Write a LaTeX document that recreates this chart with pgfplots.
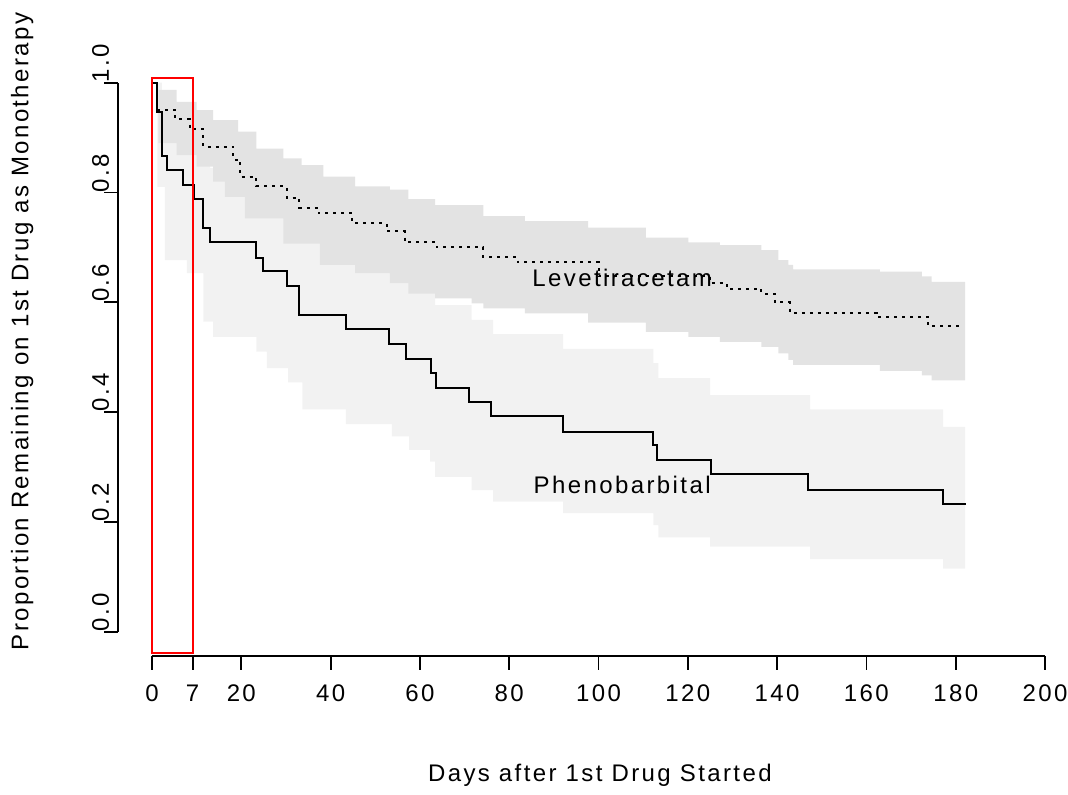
\documentclass[border=0pt]{standalone}
\usepackage{fontspec}
\setmainfont{Liberation Sans}[LetterSpace=10]
\usepackage{pgfplots}
\pgfplotsset{compat=1.18}
\usepgfplotslibrary{fillbetween}

\definecolor{levband}{HTML}{E3E3E3}
\definecolor{phenoband}{HTML}{F2F2F2}
\newcommand{\lab}{\fontsize{12}{14}\selectfont}

\begin{document}
\begin{tikzpicture}[every node/.style={font=\lab}]
\begin{axis}[
  scale only axis, width=463.35pt, height=292pt,
  xmin=-7.55, xmax=200, ymin=-0.0437, ymax=1.02,
  axis x line*=bottom, axis y line*=left,
  axis line style={draw=none},
  clip=false,
  tick align=outside, major tick length=7pt,
  tick style={black, line width=0.9pt},
  xtick={0,9.1,20,40,60,80,100,120,140,160,180,200},
  xticklabels={0,7,20,40,60,80,100,120,140,160,180,200},
  ytick={0,0.2,0.4,0.6,0.8,1},
  yticklabels={0.0,0.2,0.4,0.6,0.8,1.0},
  yticklabel style={rotate=90, anchor=south west, inner xsep=0pt},
  yticklabel shift=-6pt,
  xticklabel shift=4pt,
  ticklabel style={font=\lab},
]
% confidence band, phenobarbital
\addplot[const plot, draw=none, name path=pu] table {
1.2 1.0
2.2 0.96
3.3 0.945
6.9 0.93
9.3 0.905
11.5 0.865
13.0 0.845
23.3 0.825
24.9 0.805
30.3 0.785
33.0 0.735
43.4 0.715
53.1 0.69
56.9 0.665
62.4 0.64
63.4 0.595
71.6 0.568
76.4 0.542
92.1 0.515
112.3 0.489
113.4 0.462
125.0 0.431
147.4 0.405
177.2 0.373
182.1 0.373
};
\addplot[const plot, draw=none, name path=pl] table {
1.2 0.81
2.9 0.677
7.8 0.653
11.5 0.565
13.7 0.537
23.4 0.51
25.7 0.48
30.5 0.454
33.7 0.405
43.4 0.378
53.7 0.356
57.6 0.331
62.3 0.31
63.4 0.282
71.6 0.258
76.4 0.237
92.1 0.216
112.3 0.194
113.4 0.172
125.0 0.155
147.4 0.132
177.2 0.115
182.1 0.115
};
\addplot[phenoband, draw=none] fill between[of=pu and pl];

% confidence band, levetiracetam
\addplot[const plot, draw=none, name path=lu] table {
1.4 0.987
5.5 0.965
10.0 0.950
13.7 0.932
19.3 0.911
23.4 0.880
29.4 0.862
33.5 0.850
38.4 0.829
45.5 0.811
53.3 0.805
57.4 0.788
63.4 0.777
74.2 0.757
83.5 0.748
97.7 0.736
110.6 0.718
120.1 0.709
127.2 0.704
136.5 0.695
140.3 0.677
142.5 0.668
143.6 0.660
163.0 0.656
172.4 0.647
174.6 0.637
182.1 0.637
};
\addplot[const plot, draw=none, name path=ll] table {
1.4 0.89
5.5 0.868
10.0 0.847
13.7 0.82
16.3 0.792
20.8 0.753
29.4 0.707
37.6 0.668
45.5 0.653
53.3 0.635
57.4 0.616
63.4 0.607
71.6 0.598
74.2 0.589
83.5 0.58
97.7 0.563
110.6 0.546
120.1 0.537
127.2 0.528
136.5 0.519
140.3 0.507
142.5 0.495
143.6 0.486
163.0 0.475
172.4 0.467
174.6 0.458
182.1 0.458
};
\addplot[levband, draw=none] fill between[of=lu and ll];

% levetiracetam
\addplot[const plot, black, line width=1pt, dash pattern=on 1.5pt off 2.5pt] table {
0 1.0
1.2 0.951
5.2 0.933
8.5 0.915
11.5 0.883
18.2 0.86
19.8 0.828
23.4 0.811
30.2 0.79
33.0 0.772
37.3 0.762
44.9 0.744
52.6 0.729
56.7 0.709
63.8 0.700
74.2 0.682
82.0 0.673
100.0 0.647
125.0 0.635
128.7 0.625
136.5 0.616
139.5 0.600
142.9 0.581
162.3 0.574
173.9 0.556
181.4 0.556
};

% phenobarbital
\addplot[const plot, black, line width=1pt] table {
0 1.0
1.2 0.947
2.2 0.866
3.3 0.841
6.9 0.814
9.3 0.788
11.5 0.735
13.0 0.709
23.3 0.68
24.9 0.657
30.3 0.63
33.0 0.576
43.4 0.551
53.1 0.524
56.9 0.497
62.4 0.471
63.5 0.444
71.1 0.418
75.9 0.392
92.1 0.364
112.3 0.34
113.2 0.313
125.3 0.287
147.0 0.259
177.2 0.233
182.3 0.233
};

\draw[line width=0.9pt] (axis cs:0,-0.0437) -- (axis cs:200,-0.0437);
\draw[line width=0.9pt] (axis cs:-7.55,0) -- (axis cs:-7.55,1);
\draw[red, line width=1pt] (axis cs:0,-0.039) rectangle (axis cs:9.1,1.008);

\node at (axis cs:105.3,0.644) {Levetiracetam};
\node at (axis cs:105.3,0.267) {Phenobarbital};
\node at (axis cs:100.3,-0.261) {Days after 1st Drug Started};
\node[rotate=90] at (axis cs:-29.1,0.547) {Proportion Remaining on 1st Drug as Monotherapy};

\coordinate (bl) at (rel axis cs:0,0);
\coordinate (tr) at (rel axis cs:1,1);
\end{axis}
\pgfresetboundingbox
\path[use as bounding box] ([shift={(-59.15pt,-69.15pt)}]bl) rectangle ([shift={(11.5pt,35.85pt)}]tr);
\end{tikzpicture}
\end{document}
